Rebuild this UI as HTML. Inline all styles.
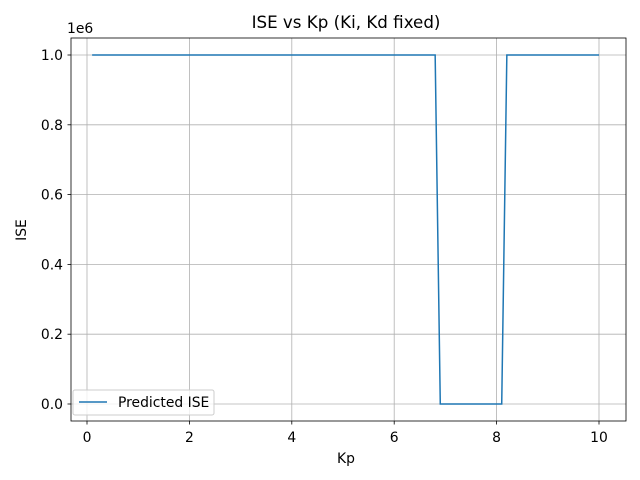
<!DOCTYPE html>
<html><head><meta charset="utf-8"><style>
body{margin:0;background:#fff;}
svg{display:block;font-family:"DejaVu Sans","Liberation Sans",sans-serif;}
</style></head><body>
<svg id="chart" width="640" height="480">
<text x="346" y="28" font-size="16.7" text-anchor="middle">ISE vs Kp (Ki, Kd fixed)</text>
<g id="grid"></g>
<g id="ticks"></g>
<polyline id="line" fill="none" stroke="#1f77b4" stroke-width="1.5"/>
<rect x="71" y="38" width="555" height="383" fill="none" stroke="#000" stroke-width="0.8"/>
<text x="346" y="463" font-size="13.9" text-anchor="middle">Kp</text>
<text x="26" y="230" font-size="13.9" text-anchor="middle" transform="rotate(-90 26 230)">ISE</text>
<text x="67" y="33" font-size="13.9">1e6</text>
<g>
<rect x="73" y="390" width="141" height="25" rx="2" fill="#fff" fill-opacity="0.8" stroke="#ccc"/>
<line x1="79" y1="402" x2="107" y2="402" stroke="#1f77b4" stroke-width="1.5"/>
<text x="118" y="407" font-size="13.9">Predicted ISE</text>
</g>
</svg>
<script>
const kp = [0.1, 6.8, 6.9, 8.1, 8.2, 10];
const ise = [1e6, 1e6, 0, 0, 1e6, 1e6];
const xTicks = [0, 2, 4, 6, 8, 10];
const yTicks = [0, 0.2, 0.4, 0.6, 0.8, 1.0];
const yTickLabels = ["0.0", "0.2", "0.4", "0.6", "0.8", "1.0"];
const NS = "http://www.w3.org/2000/svg";
function sx(v){return 87 + v * 51.2;}
function sy(v){return 404 - v / 1e6 * 349;}
const grid = document.getElementById('grid');
const ticks = document.getElementById('ticks');
function mk(tag, attrs, parent){const e=document.createElementNS(NS,tag);for(const k in attrs)e.setAttribute(k,attrs[k]);parent.appendChild(e);return e;}
xTicks.forEach(t=>{
  const x=sx(t);
  const g=mk('line',{x1:x,x2:x,y1:38,y2:421,stroke:'#b0b0b0','stroke-width':0.8},grid);
  
  
  const tk=mk('line',{x1:x,x2:x,y1:421,y2:424.5,stroke:'#000','stroke-width':0.8},ticks);
  
  
  const tx=mk('text',{x:x,y:442,'font-size':13.9,'text-anchor':'middle'},ticks);
  tx.textContent=t;
  
  
});
yTicks.forEach((t,i)=>{
  const y=sy(t*1e6);
  const g=mk('line',{x1:71,x2:626,y1:y,y2:y,stroke:'#b0b0b0','stroke-width':0.8},grid);
  
  
  const tk=mk('line',{x1:67.5,x2:71,y1:y,y2:y,stroke:'#000','stroke-width':0.8},ticks);
  
  
  const tx=mk('text',{x:63,y:y+5,'font-size':13.9,'text-anchor':'end'},ticks);
  tx.textContent=yTickLabels[i];
  
  
});
document.getElementById('line').setAttribute('points', kp.map((k,i)=>sx(k)+','+sy(ise[i])).join(' '));
</script>
</body></html>
